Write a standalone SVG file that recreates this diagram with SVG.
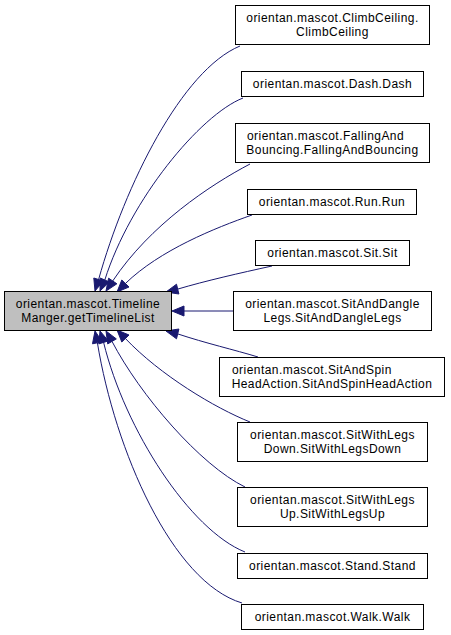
<svg xmlns="http://www.w3.org/2000/svg" width="451" height="635" viewBox="0 0 451 635">
<style>
.n rect{fill:#ffffff;stroke:#000000;stroke-width:1}
.m rect{fill:#bfbfbf;stroke:#000000;stroke-width:1}
text{font-family:"Liberation Sans",Arial,sans-serif;font-size:12px;letter-spacing:0.45px;fill:#000000}
.c{text-anchor:middle}
.s{text-anchor:start}
#edges path{fill:none;stroke:#191970;stroke-width:1}
#edges polygon{fill:#191970;stroke:#191970;stroke-width:1}
</style>
<rect x="0" y="0" width="451" height="635" fill="#ffffff"/>
<g id="edges">
<path d="M240,46 C182,70 125,185 98.6,279.5"/>
<polygon points="93.8,278 95,291 103.4,281"/>
<path d="M243,98 C200,115 130,200 104.8,280"/>
<polygon points="100.2,278 100,291 109.4,282"/>
<path d="M250,164 C210,185 150,225 112.7,281"/>
<polygon points="108.6,278.2 106,291 116.9,283.8"/>
<path d="M252,215 C215,228 160,250 125.4,283.5"/>
<polygon points="121.8,280 117,292 129,287"/>
<path d="M272,266 C240,273 205,281 177.7,289.1"/>
<polygon points="176.5,284.2 166,292 178.9,294"/>
<path d="M233,311 L184,311"/>
<polygon points="184,306 172,311 184,316"/>
<path d="M258,357 C235,350 205,343 177.7,333.9"/>
<polygon points="178.9,329 166,331 176.5,338.8"/>
<path d="M250,422 C215,408 160,375 125.4,338.5"/>
<polygon points="129,335 117,330 121.8,342"/>
<path d="M245,487 C200,465 140,395 112,341.4"/>
<polygon points="116.3,338.9 106,331 107.7,343.9"/>
<path d="M245,552 C190,530 125,430 103.6,342.4"/>
<polygon points="108.4,340.9 100,331 98.8,343.9"/>
<path d="M242,603 C172,582 115,450 97.4,342.8"/>
<polygon points="102.3,341.8 95,331 92.5,343.8"/>
</g>
<g id="main" class="m">
<rect x="4.5" y="291.5" width="167" height="39"/>
<text class="c" x="88" y="308">orientan.mascot.Timeline</text>
<text class="c" x="88" y="322">Manger.getTimelineList</text>
</g>
<g id="climbceiling" class="n">
<rect x="235.5" y="5.5" width="194" height="39"/>
<text class="c" x="332.5" y="22">orientan.mascot.ClimbCeiling.</text>
<text class="c" x="332.5" y="36">ClimbCeiling</text>
</g>
<g id="dash" class="n">
<rect x="241.5" y="71.5" width="182" height="25"/>
<text class="c" x="332.5" y="88">orientan.mascot.Dash.Dash</text>
</g>
<g id="falling" class="n">
<rect x="235.5" y="123.5" width="194" height="39"/>
<text class="s" x="247" y="140">orientan.mascot.FallingAnd</text>
<text class="c" x="332.5" y="154">Bouncing.FallingAndBouncing</text>
</g>
<g id="run" class="n">
<rect x="247.5" y="189.5" width="169" height="25"/>
<text class="c" x="332" y="206">orientan.mascot.Run.Run</text>
</g>
<g id="sit" class="n">
<rect x="255.5" y="240.5" width="154" height="25"/>
<text class="c" x="332.5" y="257">orientan.mascot.Sit.Sit</text>
</g>
<g id="sitanddangle" class="n">
<rect x="233.5" y="291.5" width="198" height="39"/>
<text class="c" x="332.5" y="308">orientan.mascot.SitAndDangle</text>
<text class="c" x="332.5" y="322">Legs.SitAndDangleLegs</text>
</g>
<g id="sitandspin" class="n">
<rect x="219.5" y="357.5" width="225" height="39"/>
<text class="s" x="232" y="374">orientan.mascot.SitAndSpin</text>
<text class="c" x="332" y="388">HeadAction.SitAndSpinHeadAction</text>
</g>
<g id="sitwithlegsdown" class="n">
<rect x="237.5" y="422.5" width="190" height="39"/>
<text class="c" x="332.5" y="439">orientan.mascot.SitWithLegs</text>
<text class="c" x="332.5" y="453">Down.SitWithLegsDown</text>
</g>
<g id="sitwithlegsup" class="n">
<rect x="237.5" y="487.5" width="190" height="39"/>
<text class="c" x="332.5" y="504">orientan.mascot.SitWithLegs</text>
<text class="c" x="332.5" y="518">Up.SitWithLegsUp</text>
</g>
<g id="stand" class="n">
<rect x="237.5" y="553.5" width="190" height="25"/>
<text class="c" x="332.5" y="570">orientan.mascot.Stand.Stand</text>
</g>
<g id="walk" class="n">
<rect x="241.5" y="604.5" width="182" height="25"/>
<text class="c" x="332.5" y="621">orientan.mascot.Walk.Walk</text>
</g>
</svg>
